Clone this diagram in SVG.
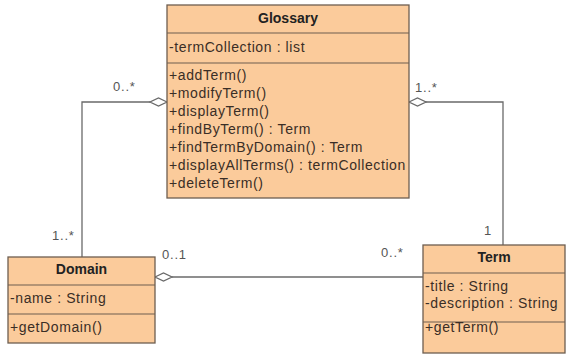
<svg xmlns="http://www.w3.org/2000/svg" width="566" height="354" viewBox="0 0 566 354">
<style>
.box{fill:#FBCB9B;stroke:#6E5E50;stroke-width:1.3}
.sep{stroke:#6E5E50;stroke-width:1.2}
.t{font-family:"Liberation Sans",Arial,sans-serif;font-size:14px;letter-spacing:0.6px;fill:#3a2e26}
.h{font-family:"Liberation Sans",Arial,sans-serif;font-size:14px;font-weight:bold;fill:#222;text-anchor:middle}
.lbl{font-family:"Liberation Sans",Arial,sans-serif;font-size:13px;letter-spacing:0.8px;fill:#555}
.c{fill:none;stroke:#6a6a6a;stroke-width:1.3}
.dia{fill:#fff;stroke:#6a6a6a;stroke-width:1.3}
</style>
<rect width="566" height="354" fill="#fff"/>
<g id="connectors">
<polyline class="c" points="150,102 82,102 82,257"/>
<polygon class="dia" points="167,102 158.5,98 150,102 158.5,106"/>
<polyline class="c" points="425,102 503,102 503,245"/>
<polygon class="dia" points="409,102 417.5,98 426,102 417.5,106"/>
<line class="c" x1="172" y1="277" x2="423" y2="277"/>
<polygon class="dia" points="155,277 163.5,273 172,277 163.5,281"/>
<text class="lbl" x="113" y="91">0..*</text>
<text class="lbl" x="52" y="240">1..*</text>
<text class="lbl" x="415" y="92">1..*</text>
<text class="lbl" x="484" y="235">1</text>
<text class="lbl" x="162" y="259">0..1</text>
<text class="lbl" x="381" y="257">0..*</text>
</g>
<g id="glossary">
<rect class="box" x="167" y="5" width="242" height="193"/>
<line class="sep" x1="167" y1="33" x2="409" y2="33"/>
<line class="sep" x1="167" y1="63" x2="409" y2="63"/>
<text class="h" x="288" y="23">Glossary</text>
<text class="t" x="169" y="52">-termCollection : list</text>
<text class="t" x="169" y="80">+addTerm()</text>
<text class="t" x="169" y="98">+modifyTerm()</text>
<text class="t" x="169" y="116">+displayTerm()</text>
<text class="t" x="169" y="134">+findByTerm() : Term</text>
<text class="t" x="169" y="152">+findTermByDomain() : Term</text>
<text class="t" x="169" y="170">+displayAllTerms() : termCollection</text>
<text class="t" x="169" y="188">+deleteTerm()</text>
</g>
<g id="domain">
<rect class="box" x="8" y="257" width="147" height="86"/>
<line class="sep" x1="8" y1="285" x2="155" y2="285"/>
<line class="sep" x1="8" y1="314" x2="155" y2="314"/>
<text class="h" x="81.5" y="274">Domain</text>
<text class="t" x="10" y="303">-name : String</text>
<text class="t" x="10" y="332">+getDomain()</text>
</g>
<g id="term">
<rect class="box" x="423" y="245" width="142" height="108"/>
<line class="sep" x1="423" y1="273" x2="565" y2="273"/>
<line class="sep" x1="423" y1="322" x2="565" y2="322"/>
<text class="h" x="494" y="262">Term</text>
<text class="t" x="425" y="291">-title : String</text>
<text class="t" x="425" y="308">-description : String</text>
<text class="t" x="425" y="332">+getTerm()</text>
</g>
</svg>
